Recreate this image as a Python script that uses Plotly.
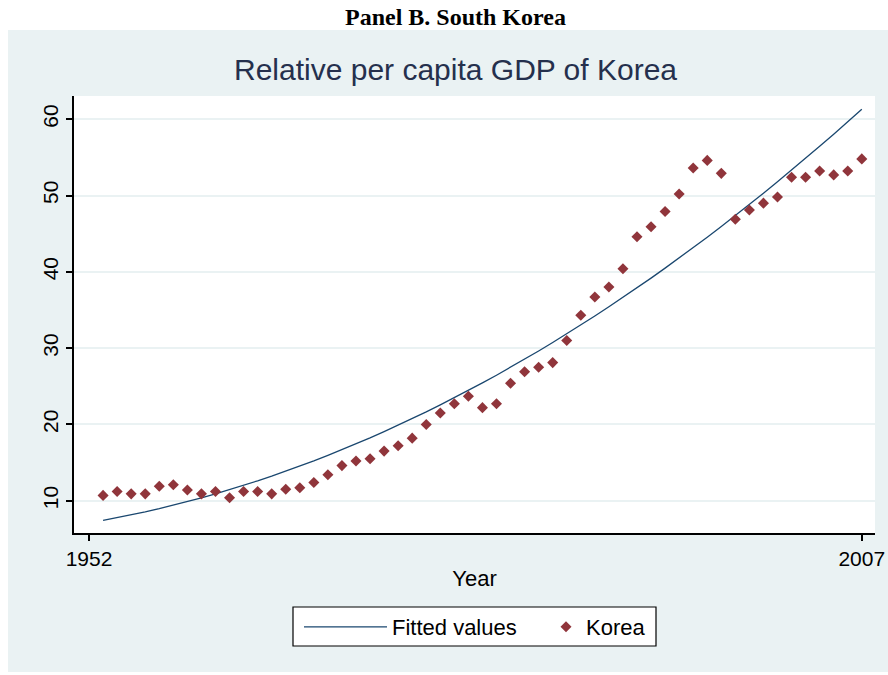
import plotly.graph_objects as go

# ---- data -------------------------------------------------------------
years = list(range(1953, 2008))

korea = [
    10.7, 11.2, 10.9, 10.9, 11.9, 12.1, 11.4, 10.9, 11.2, 10.4,
    11.2, 11.2, 10.9, 11.5, 11.7, 12.4, 13.4, 14.6, 15.2, 15.5,
    16.5, 17.2, 18.2, 20.0, 21.5, 22.7, 23.7, 22.2, 22.7, 25.4,
    26.9, 27.5, 28.1, 31.0, 34.3, 36.7, 38.0, 40.4, 44.6, 45.9,
    47.9, 50.2, 53.6, 54.6, 52.9, 46.9, 48.1, 49.0, 49.8, 52.4,
    52.4, 53.2, 52.7, 53.2, 54.8,
]

fitted = [
    7.43, 7.78, 8.15, 8.55, 8.97, 9.42, 9.89, 10.38, 10.90, 11.45,
    12.02, 12.61, 13.23, 13.87, 14.54, 15.23, 15.95, 16.69, 17.45, 18.24,
    19.06, 19.89, 20.76, 21.64, 22.56, 23.49, 24.45, 25.44, 26.45, 27.48,
    28.54, 29.62, 30.73, 31.87, 33.02, 34.20, 35.41, 36.64, 37.89, 39.17,
    40.48, 41.81, 43.16, 44.54, 45.94, 47.36, 48.82, 50.29, 51.79, 53.31,
    54.86, 56.44, 58.03, 59.66, 61.30,
]

y_ticks = [10, 20, 30, 40, 50, 60]
x_ticks = [1952, 2007]

panel_title = "Panel B. South Korea"
chart_title = "Relative per capita GDP of Korea"
x_title = "Year"

# ---- page geometry (pixels) ------------------------------------------
W, H = 888, 675
PL, PR, PT, PB = 74, 875, 96, 533  # plot region box


def px_x(px):
    return (px - PL) / (PR - PL)


def px_y(py):
    return (PB - py) / (PB - PT)


NAVY = "#1a476f"
MAROON = "#90353b"
PANEL = "#eaf2f3"
FONT = "Liberation Sans, Arial, sans-serif"

fig = go.Figure()

fig.add_trace(go.Scatter(
    x=years, y=fitted, mode="lines", name="Fitted values",
    line=dict(color=NAVY, width=1.3), legend="legend",
))
fig.add_trace(go.Scatter(
    x=years, y=korea, mode="markers", name="Korea",
    marker=dict(symbol="diamond", size=8.5, color=MAROON, line=dict(width=0)),
    legend="legend2",
))

shapes = [
    # graph region
    dict(type="rect", xref="paper", yref="paper", layer="below",
         x0=px_x(8), x1=px_x(W + 5), y0=px_y(672), y1=px_y(30),
         fillcolor=PANEL, line=dict(width=0)),
    # plot region
    dict(type="rect", xref="paper", yref="paper", layer="below",
         x0=0, x1=1, y0=0, y1=1, fillcolor="white", line=dict(width=0)),
    # legend frame
    dict(type="rect", xref="paper", yref="paper", layer="below",
         x0=px_x(293), x1=px_x(656), y0=px_y(646), y1=px_y(607),
         fillcolor="white", line=dict(color="black", width=1.2)),
]

annotations = [
    dict(text=f"<b>{panel_title}</b>", xref="paper", yref="paper",
         x=px_x(455), y=px_y(17), xanchor="center", yanchor="middle",
         showarrow=False,
         font=dict(family="Liberation Serif, Times New Roman, serif", size=24, color="black")),
    dict(text=chart_title, xref="paper", yref="paper",
         x=px_x(455), y=px_y(70), xanchor="center", yanchor="middle",
         showarrow=False, font=dict(family=FONT, size=30, color="#25304d")),
]

fig.update_layout(
    width=W, height=H, autosize=False,
    margin=dict(l=PL, r=W - PR, t=PT, b=H - PB, pad=0),
    paper_bgcolor="white", plot_bgcolor="white",
    font=dict(family=FONT, color="black"),
    shapes=shapes, annotations=annotations,
    showlegend=True,
    legend=dict(orientation="h", x=px_x(299), y=px_y(627), xanchor="left", yanchor="middle",
                bgcolor="rgba(0,0,0,0)", borderwidth=0, itemwidth=83,
                font=dict(family=FONT, size=22, color="black")),
    legend2=dict(orientation="h", x=px_x(546), y=px_y(627), xanchor="left", yanchor="middle",
                 bgcolor="rgba(0,0,0,0)", borderwidth=0, itemwidth=30,
                 font=dict(family=FONT, size=22, color="black")),
)

fig.update_xaxes(
    range=[1950.93, 2007.94], tickmode="array", tickvals=x_ticks,
    ticks="outside", ticklen=6, tickwidth=1.5, tickcolor="black",
    showline=True, linecolor="black", linewidth=1.5, mirror=False,
    showgrid=False, zeroline=False, automargin=False,
    tickfont=dict(family=FONT, size=21, color="black"),
    title=dict(text=x_title, font=dict(family=FONT, size=22, color="black"), standoff=2),
)
fig.update_yaxes(
    range=[5.77, 63.04], tickmode="array", tickvals=y_ticks, tickangle=-90,
    ticks="outside", ticklen=6, tickwidth=1.5, tickcolor="black",
    showline=True, linecolor="black", linewidth=1.5, mirror=False,
    showgrid=True, gridcolor=PANEL, gridwidth=1.5, zeroline=False, automargin=False,
    tickfont=dict(family=FONT, size=21, color="black"),
)

fig.write_html("out.html")
